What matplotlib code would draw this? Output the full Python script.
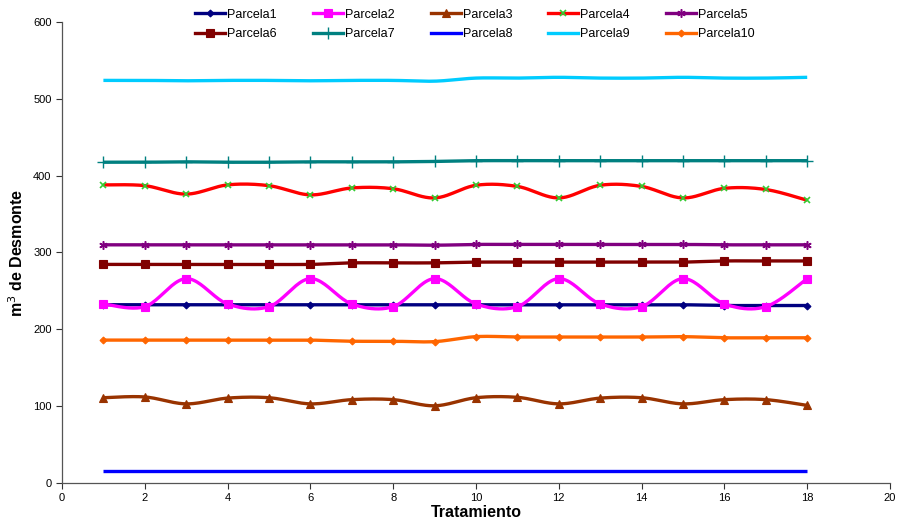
import numpy as np
import matplotlib
matplotlib.use("Agg")
import matplotlib.pyplot as plt
from matplotlib.lines import Line2D

plt.rcParams['font.family'] = ['Liberation Sans', 'DejaVu Sans']

tratamiento = list(range(1, 19))
parcela1 = [232, 232, 232, 232, 232, 232, 232, 232, 232, 232, 232, 232, 232, 232, 232, 231, 231, 231]
parcela2 = [233, 229.5, 266, 233, 229.5, 266, 233, 229.5, 266, 233, 229.5, 266, 233, 229.5, 266, 233, 229.5, 266]
parcela3 = [111, 112, 103, 110.5, 111, 103, 108.5, 108.5, 100.5, 111, 111.5, 103, 110.5, 111, 103, 108.5, 108.5, 101]
parcela4 = [388, 387, 376, 388, 387, 375, 384, 383, 371, 387.5, 386, 371, 387.5, 386, 371, 383.5, 382, 368]
parcela5 = [310, 310, 310, 310, 310, 310, 310, 310, 309.5, 310.5, 310.5, 310.5, 310.5, 310.5, 310.5, 310, 310, 310]
parcela6 = [284.5, 284.5, 284.5, 284.5, 284.5, 284.5, 286.5, 286.5, 286.5, 287.5, 287.5, 287.5, 287.5, 287.5, 287.5, 289, 289, 289]
parcela7 = [417.5, 417.5, 418, 417.5, 417.5, 418, 418, 418, 418.5, 419.5, 419.5, 419.5, 419.5, 419.5, 419.5, 419.5, 419.5, 419.5]
parcela8 = [15, 15, 15, 15, 15, 15, 15, 15, 15, 15, 15, 15, 15, 15, 15, 15, 15, 15]
parcela9 = [524, 524, 523.5, 524, 524, 523.5, 524, 524, 523, 527, 527, 528, 527, 527, 528, 527, 527, 528]
parcela10 = [186, 186, 186, 186, 186, 186, 184.5, 184.5, 184, 190.5, 190, 190, 190, 190, 190.5, 189, 189, 189]

names = ['Parcela1', 'Parcela2', 'Parcela3', 'Parcela4', 'Parcela5',
         'Parcela6', 'Parcela7', 'Parcela8', 'Parcela9', 'Parcela10']
series = [parcela1, parcela2, parcela3, parcela4, parcela5,
          parcela6, parcela7, parcela8, parcela9, parcela10]

styles = [
    dict(color='#000080', marker='D', ms=3.5, mfc='#000080', mec='#000080', mew=0.8),
    dict(color='#FF00FF', marker='s', ms=5.5, mfc='#FF00FF', mec='#FF00FF', mew=0.8),
    dict(color='#993300', marker='^', ms=5.5, mfc='#993300', mec='#993300', mew=0.8),
    dict(color='#FF0000', marker='x', ms=5, mfc='#33CC33', mec='#33CC33', mew=1.2),
    dict(color='#800080', marker=(6, 2, 0), ms=6, mfc='#800080', mec='#800080', mew=1.1),
    dict(color='#800000', marker='s', ms=5.5, mfc='#800000', mec='#800000', mew=0.8),
    dict(color='#008080', marker='+', ms=9, mfc='#008080', mec='#008080', mew=1.0),
    dict(color='#0000FF', marker=None),
    dict(color='#00CCFF', marker=None),
    dict(color='#FF6600', marker='D', ms=3.5, mfc='#FF6600', mec='#FF6600', mew=0.8),
]


def smooth_curve(x, y, n=24):
    x = np.asarray(x, float)
    y = np.asarray(y, float)
    P = np.column_stack([x, y])
    out = [P[0]]
    m = len(P)
    for i in range(m - 1):
        p0 = P[i - 1] if i > 0 else P[i]
        p1 = P[i]
        p2 = P[i + 1]
        p3 = P[i + 2] if i + 2 < m else P[i + 1]
        c1 = p1 + (p2 - p0) / 6.0
        c2 = p2 - (p3 - p1) / 6.0
        t = np.linspace(0, 1, n)[1:, None]
        b = ((1 - t) ** 3) * p1 + 3 * ((1 - t) ** 2) * t * c1 + 3 * (1 - t) * t ** 2 * c2 + t ** 3 * p2
        out.extend(b)
    out = np.array(out)
    return out[:, 0], out[:, 1]


fig = plt.figure(figsize=(8.98, 5.23), dpi=100)
ax = fig.add_axes([62 / 898, 40 / 523, 828 / 898, 461 / 523])

handles = []
for name, ys, st in zip(names, series, styles):
    sx, sy = smooth_curve(tratamiento, ys)
    ax.plot(sx, sy, color=st['color'], lw=2.4, solid_capstyle='butt', zorder=2)
    if st['marker']:
        ax.plot(tratamiento, ys, ls='none', marker=st['marker'], ms=st['ms'],
                mfc=st['mfc'], mec=st['mec'], mew=st['mew'], zorder=3)
        h = Line2D([], [], color=st['color'], lw=2.4, marker=st['marker'], ms=st['ms'],
                   mfc=st['mfc'], mec=st['mec'], mew=st['mew'])
    else:
        h = Line2D([], [], color=st['color'], lw=2.4)
    handles.append(h)

ax.set_xlim(0, 20)
ax.set_ylim(0, 600)
ax.set_xticks(range(0, 21, 2))
ax.set_yticks(range(0, 601, 100))
ax.tick_params(axis='both', labelsize=8, direction='out', length=4, width=0.8, colors='#333333',
               labelcolor='black')
for s in ['top', 'right']:
    ax.spines[s].set_visible(False)
for s in ['left', 'bottom']:
    ax.spines[s].set_color('#555555')
    ax.spines[s].set_linewidth(0.9)

ax.set_xlabel('Tratamiento', fontsize=11.5, fontweight='bold', labelpad=1)
ax.set_ylabel('m$^3$ de Desmonte', fontsize=11.5, fontweight='bold', labelpad=5)

order = [0, 5, 1, 6, 2, 7, 3, 8, 4, 9]
fig.legend([handles[i] for i in order], [names[i] for i in order], ncol=5,
           loc='upper center', bbox_to_anchor=(475 / 898, 1.005), frameon=False,
           fontsize=9, handlelength=2.4, handletextpad=0.15, columnspacing=2.9,
           labelspacing=0.6)

fig.savefig('out.png', dpi=100)
